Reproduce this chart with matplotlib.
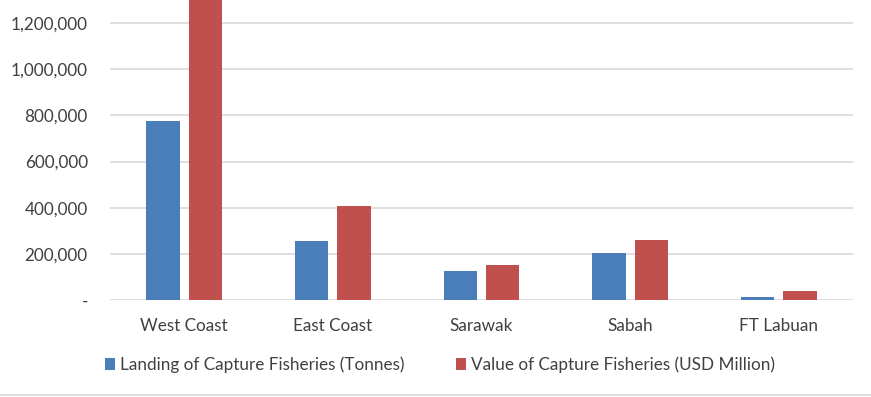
import matplotlib
matplotlib.use("Agg")
import matplotlib.pyplot as plt
import numpy as np
from matplotlib.ticker import FuncFormatter
from matplotlib.lines import Line2D

# Data
regions = ["West Coast", "East Coast", "Sarawak", "Sabah", "FT Labuan"]
landing_tonnes = [775000, 255000, 125000, 204000, 13000]
value_usd = [1400000, 407000, 152000, 260000, 39000]
series_names = ["Landing of Capture Fisheries (Tonnes)", "Value of Capture Fisheries (USD Million)"]

blue = "#4A7EBB"
red = "#C0504D"

plt.rcParams["font.family"] = ["Lato", "DejaVu Sans"]

fig = plt.figure(figsize=(8.71, 3.97), dpi=100)
ax = fig.add_axes([110 / 871, 1 - 300 / 397, 743 / 871, 300 / 397])

x = np.arange(len(regions))
w = 0.225
gap = 0.06
ax.bar(x - (w + gap) / 2, landing_tonnes, width=w, color=blue, label=series_names[0], zorder=3)
ax.bar(x + (w + gap) / 2, value_usd, width=w, color=red, label=series_names[1], zorder=3)

ax.set_xlim(-0.5, len(regions) - 0.5)
ax.set_ylim(0, 1300000)
ax.set_yticks(np.arange(0, 1200001, 200000))
ax.yaxis.set_major_formatter(FuncFormatter(lambda v, p: "-" if v == 0 else f"{int(v):,}"))
ax.set_xticks(x)
ax.set_xticklabels(regions)
ax.tick_params(axis="both", length=0, labelsize=12.3, colors="#404040")
ax.tick_params(axis="x", pad=13)
ax.tick_params(axis="y", pad=16)
ax.grid(axis="y", color="#D9D9D9", linewidth=1.2, zorder=0)
ax.set_axisbelow(True)
for s in ax.spines.values():
    s.set_visible(False)

fig.legend(loc="center", bbox_to_anchor=(440 / 871, 1 - 365 / 397), ncol=2, frameon=False,
           fontsize=12.3, labelcolor="#404040", handlelength=0.6, handleheight=0.7,
           handletextpad=0.3, columnspacing=3.0)

fig.add_artist(Line2D([0, 1], [1 - 395 / 397, 1 - 395 / 397], color="#D9D9D9", linewidth=1.2))

fig.savefig("out.png", dpi=100)
